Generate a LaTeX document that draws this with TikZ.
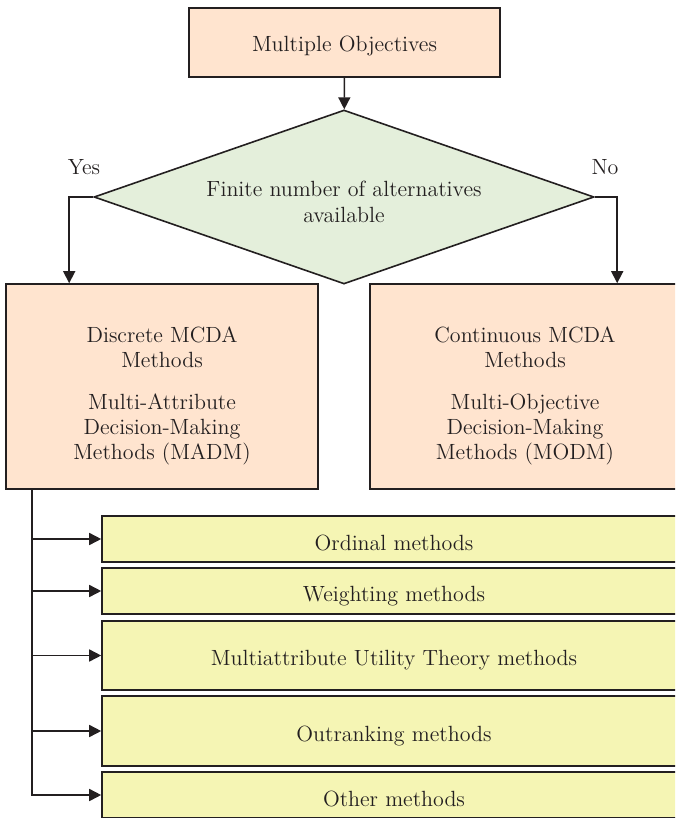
\documentclass[tikz,border=0pt]{standalone}
\usepackage{tikz}
\usetikzlibrary{shapes.geometric}
\usetikzlibrary{arrows.meta}
\definecolor{peach}{RGB}{255,228,207}
\definecolor{sage}{RGB}{228,239,219}
\definecolor{pale}{RGB}{245,245,180}
\definecolor{ink}{RGB}{35,31,32}
\newcommand{\lowertext}[2]{\raisebox{-#1}[\height][\depth]{#2}}

\tikzset{
  box/.style={draw=ink, line width=0.8pt, text=ink, inner sep=0pt, align=center, font=\fontsize{11}{12.5}\selectfont},
  peachbox/.style={box, fill=peach},
  methodbox/.style={box, fill=pale, minimum width=292pt},
  arrow/.style={draw=ink, line width=0.8pt, -{Triangle[length=6pt,width=6pt]}}
}

\begin{document}
\begin{tikzpicture}[x=0.5pt,y=-0.5pt]
\useasboundingbox (0,0) rectangle (675,818);
\clip (0,0) rectangle (675,818);

\node [peachbox, minimum width=155.5pt, minimum height=34.5pt] (objectives) at (344.5,42.5) {\lowertext{2pt}{Multiple Objectives}};
\node [box, shape=diamond, aspect=2.87, fill=sage, minimum width=250pt, minimum height=87pt] (choice) at (344,197)
  {\lowertext{3.5pt}{\begin{tabular}{@{}c@{}}Finite number of alternatives\\[0.5pt]available\end{tabular}}};

\node [peachbox, minimum width=156pt, minimum height=102.5pt] (discrete) at (162,386.5)
  {\lowertext{4.5pt}{\begin{tabular}{@{}c@{}}Discrete MCDA\\Methods\\[8.5pt]Multi-Attribute\\Decision-Making\\Methods (MADM)\end{tabular}}};
\node [peachbox, minimum width=155pt, minimum height=102.5pt] (continuous) at (525,386.5)
  {\lowertext{4.5pt}{\begin{tabular}{@{}c@{}}Continuous MCDA\\Methods\\[8.5pt]Multi-Objective\\Decision-Making\\Methods (MODM)\end{tabular}}};

\node [text=ink, font=\fontsize{11}{12.5}\selectfont] (yes) at (84,167) {Yes};
\node [text=ink, font=\fontsize{11}{12.5}\selectfont] (no) at (605,167) {No};

\node [methodbox, minimum height=23pt] (ordinal) at (394,539) {\lowertext{2pt}{Ordinal methods}};
\node [methodbox, minimum height=23pt] (weighting) at (394,591) {\lowertext{2.5pt}{Weighting methods}};
\node [methodbox, minimum height=34.5pt] (maut) at (394,655.5) {\lowertext{2.5pt}{Multiattribute Utility Theory methods}};
\node [methodbox, minimum height=35pt] (outranking) at (394,731) {\lowertext{2.5pt}{Outranking methods}};
\node [methodbox, minimum height=23pt] (other) at (394,795) {\lowertext{2pt}{Other methods}};

\draw [arrow] (objectives) -- (choice);
\draw [arrow] (choice.west) -| ([xshift=32pt]discrete.north west);
\draw [arrow] (choice.east) -| ([xshift=124pt]continuous.north west);

\coordinate (trunk) at ([xshift=13.5pt]discrete.south west);
\foreach \m in {ordinal,weighting,maut,outranking,other}
  \draw [arrow] (trunk) |- (\m.west);

\end{tikzpicture}
\end{document}
